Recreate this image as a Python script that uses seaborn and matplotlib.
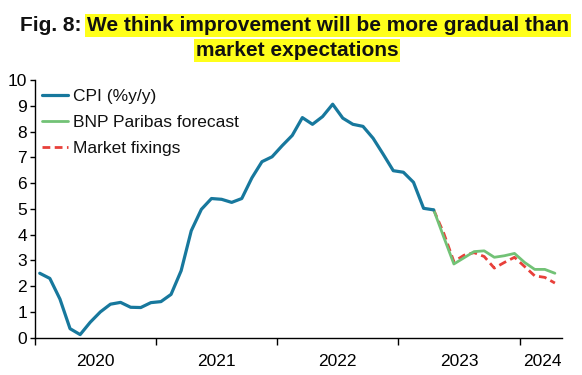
import numpy as np
import pandas as pd
import seaborn as sns
import matplotlib
matplotlib.use("Agg")
import matplotlib.pyplot as plt

# monthly data, Jan 2020 - Apr 2023 (actual) and Apr 2023 - Apr 2024 (forecasts)
cpi = [2.5, 2.3, 1.5, 0.35, 0.12, 0.6, 1.0, 1.3, 1.37, 1.18, 1.17, 1.36,
       1.4, 1.68, 2.6, 4.15, 4.98, 5.4, 5.37, 5.25, 5.4, 6.2, 6.83, 7.02,
       7.45, 7.85, 8.54, 8.28, 8.58, 9.06, 8.52, 8.28, 8.2, 7.74, 7.12, 6.48,
       6.42, 6.03, 5.02, 4.96]
bnp = [4.96, 3.9, 2.86, 3.1, 3.34, 3.37, 3.12, 3.18, 3.27, 2.92, 2.65, 2.65, 2.5]
market = [4.96, 4.05, 2.95, 3.2, 3.3, 3.15, 2.7, 2.92, 3.12, 2.76, 2.4, 2.34, 2.12]
years = ["2020", "2021", "2022", "2023", "2024"]

cpi_start = 0      # Jan 2020
fc_start = 39      # Apr 2023

def month_pos(start, n):
    return 2020 + (np.arange(start, start + n) + 0.5) / 12

df_cpi = pd.DataFrame({"t": month_pos(cpi_start, len(cpi)), "v": cpi})
df_bnp = pd.DataFrame({"t": month_pos(fc_start, len(bnp)), "v": bnp})
df_mkt = pd.DataFrame({"t": month_pos(fc_start, len(market)), "v": market})

sns.set_theme(style="ticks")
plt.rcParams['font.family'] = ['Liberation Sans', 'DejaVu Sans']

fig = plt.figure(figsize=(5.82, 3.75), dpi=100)
ax = fig.add_axes([0.0596, 0.0995, 0.906, 0.6872])

sns.lineplot(data=df_cpi, x="t", y="v", ax=ax, color="#17789d", linewidth=2.3,
             label="CPI (%y/y)", zorder=4)
sns.lineplot(data=df_bnp, x="t", y="v", ax=ax, color="#72c276", linewidth=2.0,
             label="BNP Paribas forecast", zorder=3)
sns.lineplot(data=df_mkt, x="t", y="v", ax=ax, color="#e8403a", linewidth=2.0,
             dashes=False, label="Market fixings", zorder=2)
ax.lines[-1].set_dashes((2.8, 1.6))

ax.set_xlim(2020, 2024.35)
ax.set_ylim(0, 10)
ax.set_yticks(range(0, 11))
ax.set_xticks([2020, 2021, 2022, 2023, 2024])
ax.set_xticklabels([])
ax.set_xticks([2020.5, 2021.5, 2022.5, 2023.5, 2024.19], minor=True)
ax.set_xticklabels(years, minor=True)
ax.tick_params(axis="x", which="major", length=5, width=1, color="black", direction="out")
ax.tick_params(axis="x", which="minor", length=0, pad=12, labelsize=12.5, labelcolor="black")
ax.tick_params(axis="y", length=3.6, width=1, color="black", pad=2, labelsize=12.5,
               labelcolor="black")
ax.set_xlabel("")
ax.set_ylabel("")
ax.grid(False)
sns.despine(ax=ax)
for s in ["left", "bottom"]:
    ax.spines[s].set_color("black")
    ax.spines[s].set_linewidth(1)

leg = ax.legend(loc="upper left", bbox_to_anchor=(0, 0.992), borderaxespad=0, frameon=False,
                fontsize=12.5, handlelength=1.5, handletextpad=0.3, labelspacing=0.63)
for t in leg.get_texts():
    t.set_color("#111111")

# title with yellow highlight
hl = dict(boxstyle="square,pad=0.1", facecolor="#ffff1a", edgecolor="none")
t1 = fig.text(20 / 582, 1 - 31 / 375, "Fig. 8:", ha="left", va="baseline",
              fontsize=15, fontweight="bold", color="#111111")
ax.annotate("We think improvement will be more gradual than", xy=(1, 0), xycoords=t1,
            xytext=(4, 0), textcoords="offset points", ha="left", va="bottom",
            fontsize=15, fontweight="bold", color="#111111", bbox=hl,
            annotation_clip=False)
fig.text(297 / 582, 1 - 56 / 375, "market expectations", ha="center", va="baseline",
         fontsize=15, fontweight="bold", color="#111111", bbox=hl)

fig.savefig("out.png", dpi=100)
